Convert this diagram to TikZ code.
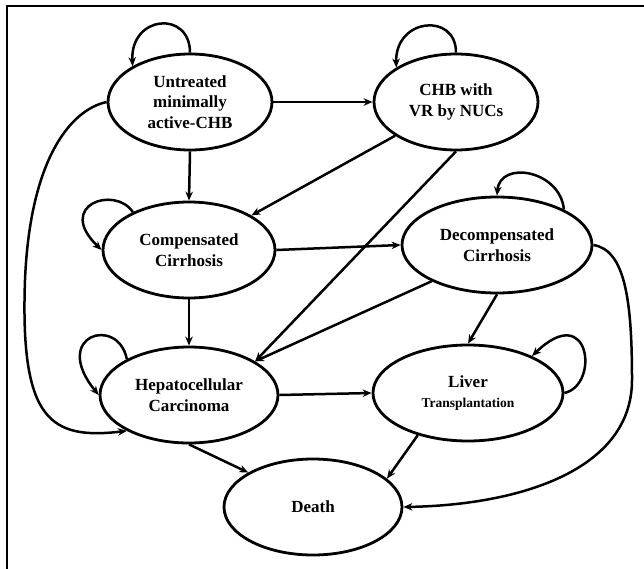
\documentclass[tikz,border=0pt]{standalone}
\usepackage{fontspec}
\setmainfont{Liberation Serif}
\usetikzlibrary{shapes.geometric,arrows.meta}
\begin{document}
\begin{tikzpicture}[x=1pt,y=-1pt,
  state/.style={ellipse,draw,line width=2.8pt,inner sep=0pt,align=center,
    font=\fontsize{17}{20.5}\selectfont\bfseries},
  arr/.style={line width=2.5pt,-{Stealth[length=9pt,width=7.5pt]}},
  frame/.style={line width=1.5pt}]
\useasboundingbox (0,0) rectangle (644,569);
\draw[frame] (7,569) -- (7,6) -- (644,6);
\node[state,minimum width=164pt,minimum height=96pt] (U) at (190,102) {Untreated\\minimally\\active-CHB};
\node[state,minimum width=164pt,minimum height=96pt] (C) at (456,102) {CHB with\\VR by NUCs};
\node[state,minimum width=172pt,minimum height=96pt] (CC) at (189,250) {Compensated\\Cirrhosis};
\node[state,minimum width=190pt,minimum height=96pt] (DC) at (497,245) {Decompensated\\Cirrhosis};
\node[state,minimum width=178pt,minimum height=96pt] (H) at (189,395) {Hepatocellular\\Carcinoma};
\node[state,minimum width=190pt,minimum height=96pt] (L) at (468,393) {Liver\\{\fontsize{13.5}{16}\selectfont Transplantation}};
\node[state,minimum width=178pt,minimum height=96pt] (D) at (313,507) {Death};
% straight transitions
\draw[arr] (U.east) -- (C.west);
\draw[arr] (U.south) -- (CC.north);
\draw[arr] (C) -- (CC);
\draw[arr] (C.south) -- (H.27);
\draw[arr] (CC.east) -- (DC.west);
\draw[arr] (CC.south) -- (H.north);
\draw[arr] (DC.209) -- (H.27);
\draw[arr] (DC.south) -- (L.north);
\draw[arr] (H.east) -- (L.west);
\draw[arr] (H.south) -- (D.152);
\draw[arr] (L.220) -- (D.21);
% long curves
\draw[arr] (U.west) .. controls (70,110) and (30,160) .. (25,280)
  .. controls (20,420) and (50,440) .. (H.210);
\draw[arr] (DC.east) .. controls (625,250) and (632,300) .. (632,380)
  .. controls (632,470) and (520,505) .. (D.east);
% self loops
\draw[arr] (U.north) .. controls (190,10) and (130,15) .. (U.148);
\draw[arr] (C.north) .. controls (456,12) and (395,18) .. (C.150);
\draw[arr] (CC.146) .. controls (115,185) and (55,205) .. (CC.west);
\draw[arr] (H.150) .. controls (118,315) and (50,335) .. (H.west);
\draw[arr] (DC.28) .. controls (560,170) and (500,160) .. (DC.north);
\draw[arr] (L.east) .. controls (600,385) and (590,300) .. (L.30);
\end{tikzpicture}
\end{document}
